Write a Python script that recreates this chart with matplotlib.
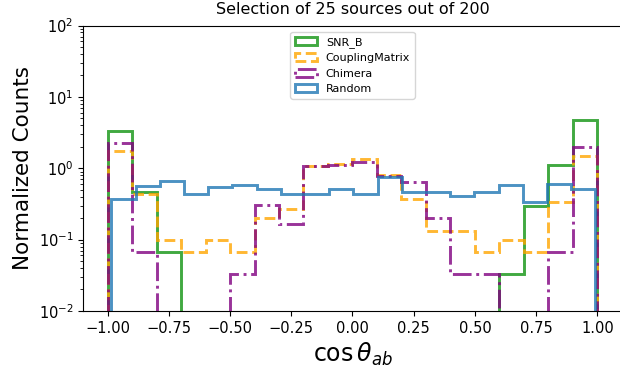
import numpy as np
import matplotlib
matplotlib.use('Agg')
import matplotlib.pyplot as plt

# pair counts per bin (25 sources -> 300 pairs), 20 bins on [-1, 1]
edges = np.linspace(-1, 1, 21)
snr_b = [99, 14, 2, 0, 0, 0, 0, 0, 0, 0, 0, 0, 0, 0, 0, 0, 1, 9, 33, 142]
coupling = [53, 13, 3, 2, 3, 2, 6, 8, 32, 34, 41, 24, 11, 4, 4, 2, 3, 2, 10, 44]
chimera = [68, 2, 0, 0, 0, 1, 9, 5, 32, 33, 37, 23, 19, 6, 1, 1, 0, 0, 2, 60]

# random selection, binned between its own min and max
rand_edges = np.linspace(-0.984, 0.992, 21)
rand_dens = [0.37, 0.56, 0.67, 0.44, 0.54, 0.58, 0.51, 0.44, 0.44, 0.51,
             0.44, 0.76, 0.47, 0.47, 0.41, 0.47, 0.58, 0.34, 0.60, 0.51]

def density(counts, e):
    c = np.array(counts, dtype=float)
    return c / (c.sum() * np.diff(e))

fig = plt.figure(figsize=(6.2, 3.76), dpi=100)
ax = fig.add_axes([0.134, 0.173, 0.869, 0.759])

ax.hist(edges[:-1], edges, weights=density(snr_b, edges), histtype='step',
        color='tab:green', lw=2.1, alpha=0.9, label='SNR_B')
ax.hist(edges[:-1], edges, weights=density(coupling, edges), histtype='step',
        color='orange', lw=2.1, ls='--', alpha=0.8, label='CouplingMatrix')
ax.hist(edges[:-1], edges, weights=density(chimera, edges), histtype='step',
        color='purple', lw=2.1, ls='-.', alpha=0.8, label='Chimera')
ax.hist(rand_edges[:-1], rand_edges, weights=rand_dens, histtype='step',
        color='tab:blue', lw=2.1, alpha=0.8, label='Random')

ax.set_yscale('log')
ax.set_ylim(1e-2, 1e2)
ax.set_xlim(-1.1, 1.1)
ax.set_xticks(np.arange(-1, 1.01, 0.25))
ax.tick_params(labelsize=10.5)
ax.set_xlabel(r'$\cos\theta_{ab}$', fontsize=17)
ax.set_ylabel('Normalized Counts', fontsize=15.5)
ax.set_title('Selection of 25 sources out of 200', fontsize=11.5, pad=8)
ax.legend(loc='upper center', fontsize=8, borderaxespad=0.6)

fig.savefig('out.png', dpi=100)
